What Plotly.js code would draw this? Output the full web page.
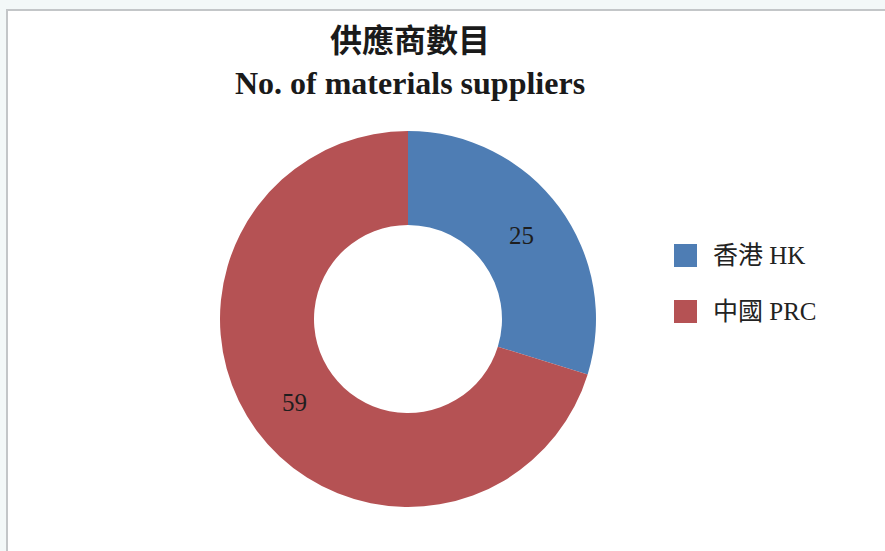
<!DOCTYPE html>
<html>
<head>
<meta charset="utf-8">
<script src="https://cdn.plot.ly/plotly-3.0.1.min.js"></script>
<style>html,body{margin:0;padding:0;background:#fff;}#chart{width:885px;height:551px;}</style>
</head>
<body>
<div id="chart"></div>
<script>
const categories = ["香港 HK", "中國 PRC"];
const supplierCounts = [25, 59];
const sliceColors = ["#4e7db4", "#b55254"];
const titleLines = ["供應商數目", "No. of materials suppliers"];

const serif = "'Liberation Serif', 'Times New Roman', 'Noto Sans CJK TC', serif";

const trace = {
  type: "pie",
  labels: categories,
  values: supplierCounts,
  marker: { colors: sliceColors, line: { width: 0 } },
  hole: 0.5,
  sort: false,
  direction: "clockwise",
  rotation: 0,
  textinfo: "value",
  textposition: "inside",
  insidetextorientation: "horizontal",
  textfont: { family: serif, size: 25, color: "#1e1e1e" },
  domain: { x: [220 / 885, 596 / 885], y: [44 / 551, 420 / 551] },
  showlegend: false,
  hoverinfo: "label+value"
};

// custom legend built from the category arrays
const shapes = [{
  type: "rect", xref: "paper", yref: "paper",
  x0: 7 / 885, x1: 1.02, y0: -0.02, y1: 1 - 10 / 551,
  fillcolor: "#ffffff", line: { color: "#c3c6c8", width: 2 }, layer: "below"
}];
const annotations = [];
categories.forEach((c, i) => {
  const cy = 255.5 + i * 56;
  shapes.push({
    type: "rect", xref: "paper", yref: "paper",
    x0: 674 / 885, x1: 697 / 885,
    y0: 1 - (cy + 11.5) / 551, y1: 1 - (cy - 11.5) / 551,
    fillcolor: sliceColors[i], line: { width: 0 }
  });
  annotations.push({
    xref: "paper", yref: "paper", x: 711 / 885, y: 1 - cy / 551,
    xanchor: "left", yanchor: "middle", showarrow: false,
    text: c, font: { family: serif, size: 25, color: "#222" }
  });
});

const layout = {
  width: 885, height: 551,
  margin: { l: 0, r: 0, t: 0, b: 0 },
  paper_bgcolor: "#f3f8f8",
  title: {
    text: "<b>" + titleLines.join("</b><br><b>") + "</b>",
    font: { family: serif, size: 32, color: "#1a1a1a" },
    x: 410 / 885, xanchor: "center",
    y: 1 - 52 / 551, yanchor: "top", yref: "container"
  },
  shapes: shapes,
  annotations: annotations
};

Plotly.newPlot("chart", [trace], layout, { displayModeBar: false, staticPlot: true });
</script>
</body>
</html>
